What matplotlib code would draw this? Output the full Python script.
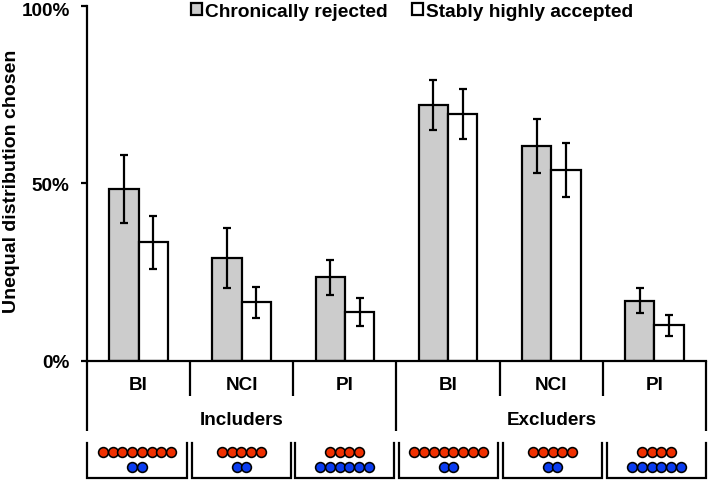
import matplotlib
matplotlib.use("Agg")
import matplotlib.pyplot as plt
from matplotlib.transforms import blended_transform_factory, ScaledTranslation
import numpy as np

plt.rcParams['font.family'] = ['Liberation Sans', 'DejaVu Sans']
plt.rcParams['font.weight'] = 'bold'

W, H = 708, 481
subgroups = ["BI", "NCI", "PI", "BI", "NCI", "PI"]
groups = ["Includers", "Excluders"]
series_names = ["Chronically rejected", "Stably highly accepted"]
rejected = [48.4, 29, 23.5, 72, 60.5, 17]
accepted = [33.4, 16.5, 13.8, 69.5, 53.8, 10]
rejected_err = [9.5, 8.5, 5, 7, 7.5, 3.6]
accepted_err = [7.5, 4.3, 3.9, 7, 7.6, 3]
red_counts = [8, 5, 4, 8, 5, 4]
blue_counts = [2, 2, 6, 2, 2, 6]

fig = plt.figure(figsize=(W / 100, H / 100), dpi=100)
L, R, T, B = 87, 706, 6.5, 362
ax = fig.add_axes([L / W, 1 - B / H, (R - L) / W, (B - T) / H])

x = np.arange(6)
bw = 0.285
err_kw = dict(ecolor='black', elinewidth=1.6, capsize=2.7, capthick=1.6)
b1 = ax.bar(x - bw / 2, rejected, bw, color='#cccccc', edgecolor='black', linewidth=1.6,
            yerr=rejected_err, error_kw=err_kw, label=series_names[0])
b2 = ax.bar(x + bw / 2, accepted, bw, color='white', edgecolor='black', linewidth=1.6,
            yerr=accepted_err, error_kw=err_kw, label=series_names[1])

ax.set_xlim(-0.5, 5.5)
ax.set_ylim(0, 100)
ax.set_yticks([0, 50, 100], ["0%", "50%", "100%"], fontsize=13.6, fontweight='bold')
ax.set_xticks([])
ax.tick_params(axis='y', length=4.5, width=1.6, pad=8)
ax.get_yticklabels()[2].set_transform(ax.get_yticklabels()[2].get_transform()
                                      + ScaledTranslation(0, -3 / 100, fig.dpi_scale_trans))
ax.set_ylabel("Unequal distribution chosen", fontsize=14, fontweight='bold')
ax.yaxis.set_label_coords((20 - L) / (R - L), 0.507)
for s in ['top', 'right']:
    ax.spines[s].set_visible(False)
for s in ['left', 'bottom']:
    ax.spines[s].set_linewidth(1.6)

leg = ax.legend(handles=[b1, b2], ncol=2, loc='upper left', bbox_to_anchor=(0.168, 1.007),
                frameon=False, fontsize=13.75, handlelength=0.58, handleheight=0.58,
                handletextpad=0.16, columnspacing=1.28, borderpad=0, borderaxespad=0)

tr = blended_transform_factory(ax.transData, ax.transAxes)
def yf(py):
    return (B - py) / (B - T)
def xf(px):
    return (px - L) / (R - L) * 6 - 0.5

for i, name in enumerate(subgroups):
    ax.text(i, yf(386), name, transform=tr, ha='center', va='center', fontsize=13.6)
for i, name in enumerate(groups):
    ax.text(1 + 3 * i, yf(421), name, transform=tr, ha='center', va='center', fontsize=13.6)

for i in range(7):
    long_line = i in (0, 3, 6)
    ax.plot([i - 0.5, i - 0.5], [yf(B), yf(432 if long_line else 397)], transform=tr,
            color='black', lw=1.6, clip_on=False, solid_capstyle='butt')

panel_left = [87, 192, 295, 399, 503, 607]
panel_right = [187, 291, 394, 498, 602, 706]
step = 9.7 / 103
for i in range(6):
    l, r = xf(panel_left[i]), xf(panel_right[i])
    ax.plot([l, l, r, r], [yf(444), yf(479), yf(479), yf(444)], transform=tr,
            color='black', lw=1.6, clip_on=False, solid_joinstyle='miter')
    for n, py, c in ((red_counts[i], 452.7, '#f03000'), (blue_counts[i], 468, '#0a3cf0')):
        xs = (l + r) / 2 + (np.arange(n) - (n - 1) / 2) * step
        ax.scatter(xs, [yf(py)] * n, transform=tr, s=50, color=c, edgecolor='black',
                   linewidth=1.15, clip_on=False, zorder=3)

fig.savefig("out.png", dpi=100)
